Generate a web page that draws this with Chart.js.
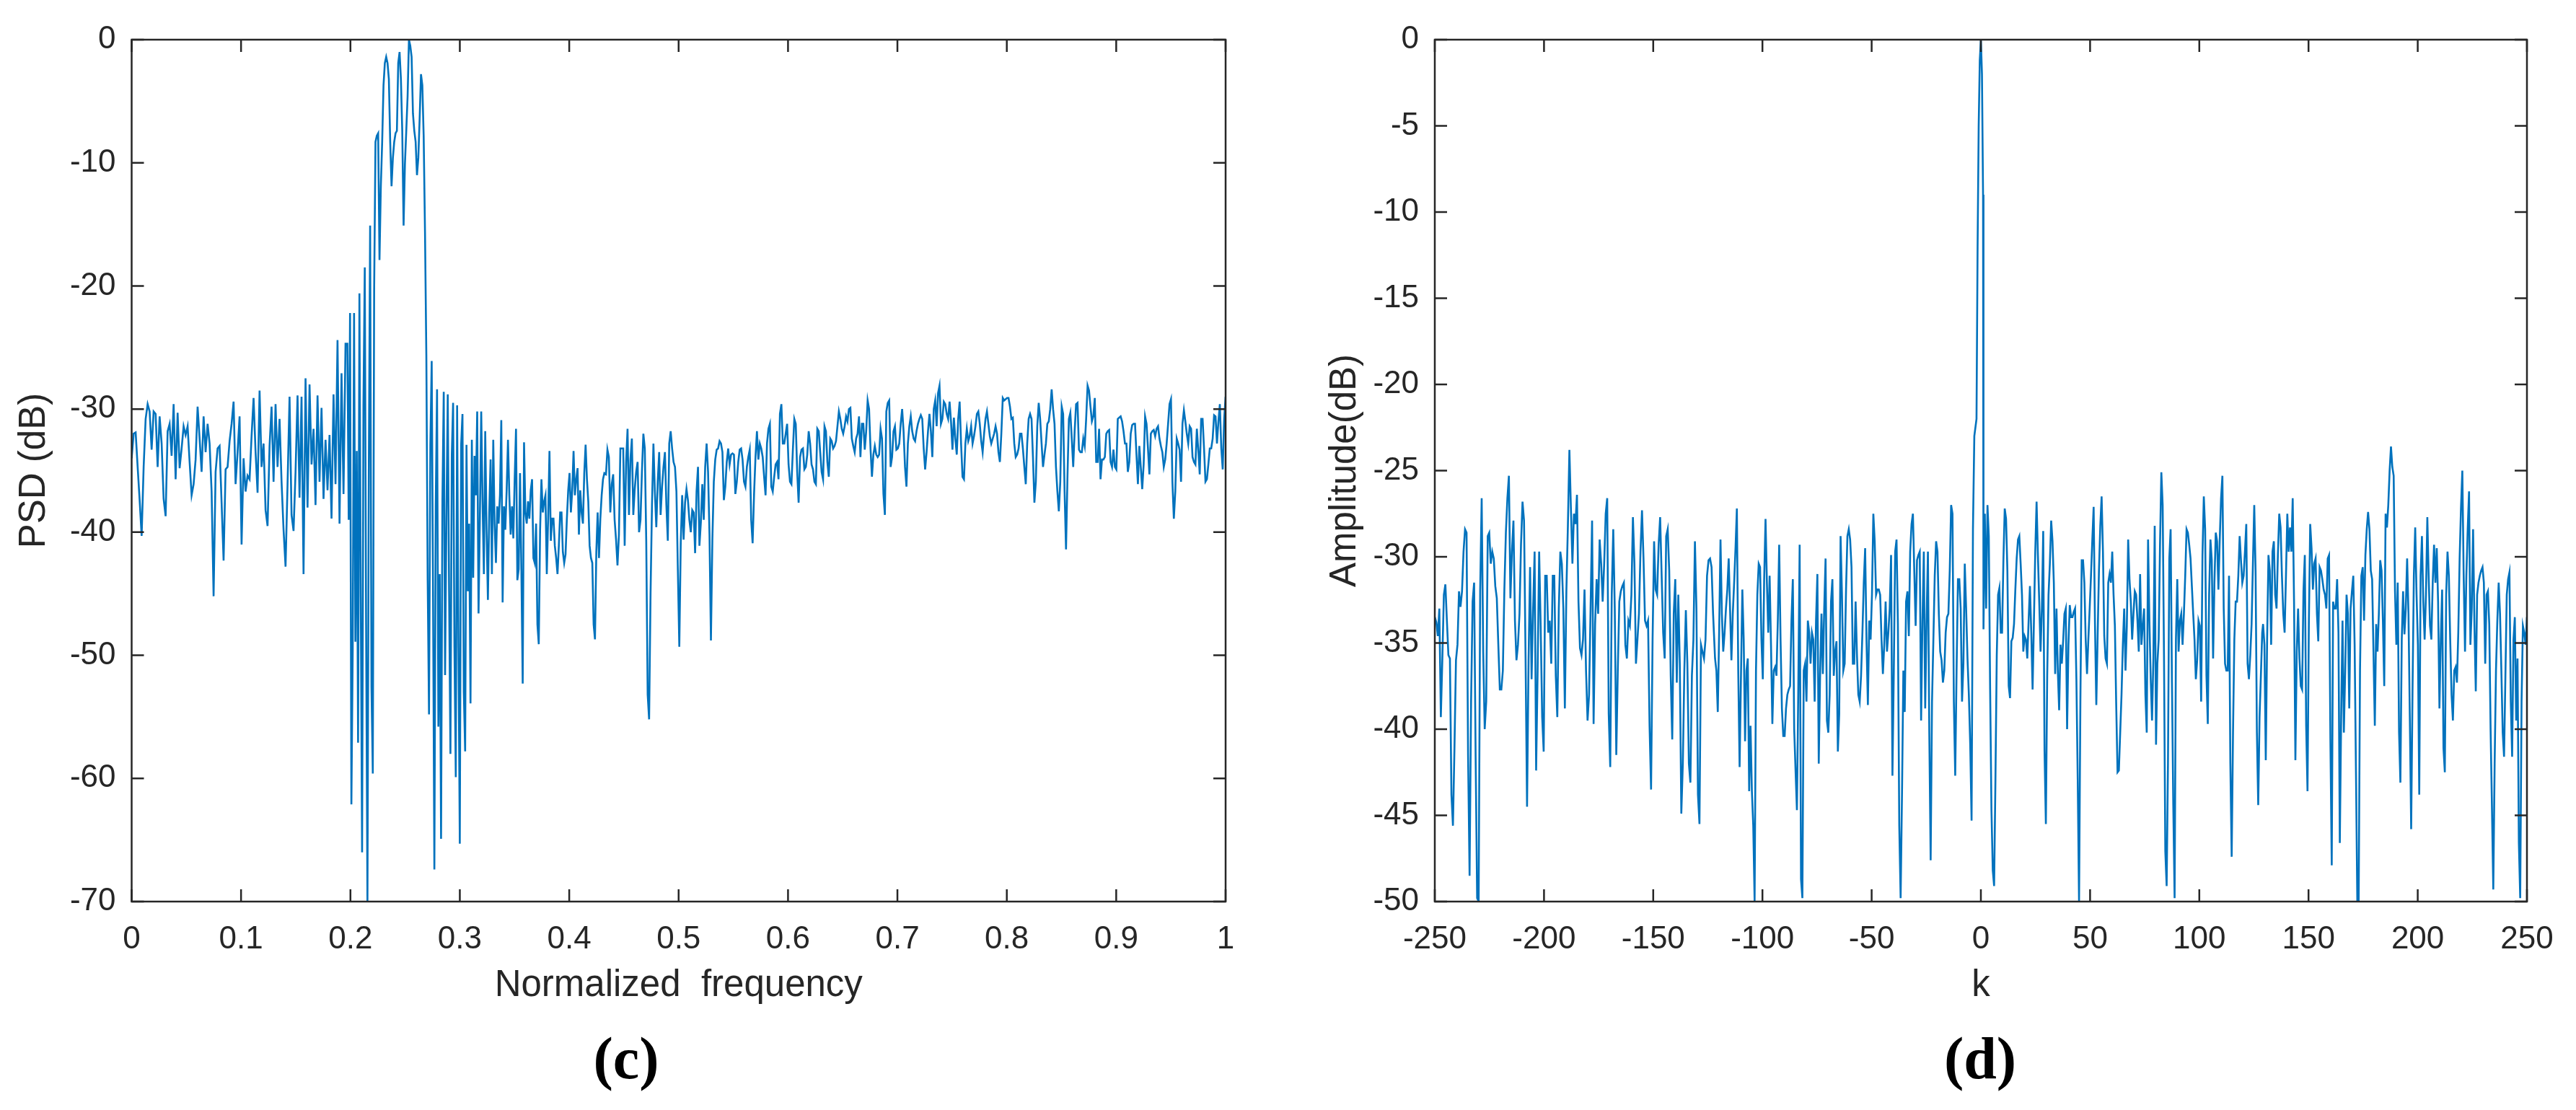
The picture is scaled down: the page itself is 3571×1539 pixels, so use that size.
<!DOCTYPE html>
<html>
<head>
<meta charset="utf-8">
<script src="https://cdn.jsdelivr.net/npm/chart.js@4.4.1/dist/chart.umd.min.js"></script>
<style>
  body { margin: 0; background: #fff; width: 3571px; height: 1539px; position: relative; overflow: hidden; }
  canvas { position: absolute; top: 0; }
  .cap { position: absolute; top: 1468px; transform: translate(-50%, -50%); font-family: "Liberation Serif", "Times New Roman", serif; font-weight: bold; font-size: 82px; line-height: 1; color: #000; }
</style>
</head>
<body>
<canvas id="chartC" width="1780" height="1420" style="left:0px"></canvas>
<canvas id="chartD" width="1781" height="1420" style="left:1790px"></canvas>
<div class="cap" style="left:868px">(c)</div>
<div class="cap" style="left:2745px">(d)</div>
<script>
// (c) PSD over normalized frequency in three stretches
const psdLow = [-34, -32, -31.9, -34.7, -37.4, -40.3, -34.7, -30.8, -29.6, -30.2, -33.3, -30.2, -30.4, -34.7, -30.6, -32.8, -37.3, -38.7, -31.8, -31.2,
  -33.8, -29.6, -35.7, -30.3, -34.8, -33.2, -31.4, -32.1, -31.4, -34.3, -37, -36.1, -34.1, -29.8, -32.4, -35.1, -30.6, -33.5, -31.2, -32.8,
  -36.7, -45.2, -35.1, -33.2, -33, -37.6, -42.3, -34.9, -34.7, -32.6, -31.2, -29.4, -36.1, -33.5, -30.6, -41, -34, -36.7, -35.4, -35.7,
  -32.2, -29.1, -33.5, -36.8, -28.5, -34.7, -32.8, -38.2, -39.5, -33, -29.8, -35.9, -29.6, -34.7, -30.8, -35.9, -39.8, -42.8, -36.1, -29,
  -38.6, -39.9, -35.1, -28.9, -37.2, -29, -43.4, -27.5, -38, -28, -34.5, -31.6, -37.8, -28.9, -35.9, -29.9, -37.3, -32.5, -36.6, -32.1,
  -38.9, -28.8, -36.1, -24.4, -39.3, -27.1, -36.9, -24.7];
const psdBand = [-24.7, -39, -22.2, -62.1, -49.4, -22.2, -48.9, -33.4, -57.1, -20.6, -45.3, -66, -29.7, -18.5, -47.5, -70, -35.2, -15.1, -52.6, -59.6,
  -20.4, -8.3, -7.8, -7.6, -17.9, -11.9, -8.3, -3.7, -1.9, -1.4, -1.9, -3.2, -8.3, -11.9, -9.6, -8.3, -7.6, -7.4, -1.9, -1,
  -3.2, -7.4, -15.1, -10.1, -7.4, -4.6, 0, -0.5, -1.4, -6, -7.4, -8.3, -11, -9.6, -6.4, -2.8, -3.7, -7.8, -15.6, -25.6,
  -43.9, -54.8, -32.9, -26.1, -44.8, -67.4, -37.9, -28.4, -55.8, -43.4, -64.9, -37.5, -28.6, -51.6, -38.9, -28.8, -44.8, -58, -33.8, -29.5,
  -49.4, -59.9, -29.7, -49.4, -65.3, -32.9, -30.4, -53, -57.8, -32.9, -44.8, -39.3, -53.9, -32.5, -43.7, -33.8, -37, -30.2, -46.6, -38.9,
  -30.2, -37.5, -43.4, -31.8, -39.8, -45.5, -38.4, -34.1, -43.4, -32.5, -39.3, -42.5, -37.9, -39.3, -37, -30.9, -45.7, -37.9, -39.8, -36.6,
  -32.5, -37, -40.2, -37.9, -40.5, -35.7, -31.6, -43.9, -43, -35.2, -43, -52.3, -32.7, -38.4, -39.3, -37.5, -38.9, -36.6, -35.7, -42.1,
  -42.5, -39.3, -47.5, -49.1, -39.8, -35.7, -38.4, -37.5, -37, -43.4, -38.9, -33.4, -40.7, -38.9, -38.9, -41.1, -42.1, -43.4, -41.1, -38.4,
  -38.4, -41.6, -42.5, -41.8, -38.9, -36.6, -35.2, -38.4, -36.6, -33.4, -37, -35.7, -34.8, -40.2, -36.6, -38.4, -39.3, -35.2, -32.9, -35.7,
  -37.5, -41.1, -42.1, -42.5, -47.5, -48.7, -41.6, -38.4, -42.1, -38.9, -37, -35.7, -35.2];
const psdHigh = [-35.3, -33.3, -33.9, -38.4, -36.1, -35.3, -39, -40.6, -42.7, -40.2, -33.2, -33.2, -33.2, -41.1, -34.3, -31.6, -38.6, -34.1, -32.4, -38.6,
  -36.5, -35.1, -34.3, -40, -39, -35.1, -32, -33.2, -40.7, -53.2, -55.2, -45, -37.8, -32.8, -36.7, -39.6, -35.9, -33.5, -38.6, -36.3,
  -34.7, -33.5, -37.8, -40.7, -32.8, -31.8, -33.2, -34.3, -34.7, -36.7, -43.1, -49.3, -40.9, -37, -40.6, -37.6, -36.5, -37.4, -39, -40,
  -38.2, -38.4, -41.7, -36.7, -34.7, -41.1, -39.2, -36.1, -39, -34.7, -32.8, -35.1, -40.2, -48.8, -40.6, -35.9, -34.1, -33.3, -33.2, -32.6,
  -32.8, -33.5, -37.4, -36.3, -34.3, -33.2, -34.5, -33.7, -33.6, -33.7, -36.9, -35.9, -34.3, -33.3, -33.2, -34.1, -35.9, -36.3, -34.7, -33.9,
  -33.3, -39, -40.9, -36.9, -33.9, -31.8, -34.1, -32.8, -33.2, -33.9, -35.5, -37, -32.8, -31.6, -31.2, -36.3, -36.7, -35.5, -34.5, -34.3,
  -35.7, -30.4, -29.6, -32.8, -32.8, -32, -31.2, -34.5, -35.9, -36.1, -33.3, -30.8, -31.2, -35.1, -37.6, -33.9, -33.3, -33.2, -34.9, -34.7,
  -33.7, -31.8, -32.8, -34.5, -34.9, -35.9, -36.1, -31.6, -31.8, -33.5, -35.1, -35.7, -31.4, -31.8, -34.3, -35.5, -32.4, -32.6, -33.2, -33,
  -32.6, -31.4, -30.2, -30.8, -31.6, -32, -31.4, -30.6, -31, -30, -29.9, -32.4, -33, -33.5, -32.4, -32, -30.6, -33.9, -31.2, -31.2,
  -33.3, -31.8, -29.3, -30, -33.2, -35.5, -33.7, -33, -33.7, -33.9, -33.7, -31.6, -32.4, -36.9, -38.6, -30.2, -29.5, -29.3, -34.7, -33.9,
  -31.8, -31.4, -33.3, -33.2, -32.8, -31.2, -30, -31.8, -34.7, -36.3, -32.8, -31.4, -30.6, -31.8,
  -32.4, -32.6, -31.8, -31.2, -30.8, -30.5, -30.8, -33.2, -34.9, -33.5, -31.8, -30.4, -31.8, -33.9, -30, -29.3, -31.4, -28.7, -28.1, -31.2,
  -30.8, -29.4, -29.6, -30.4, -30.8, -29.4, -31, -33.3, -30.7, -32.4, -33.7, -30.8, -29.4, -32.8, -35.5, -35.7, -32.8, -31.6, -32.6, -32.2,
  -31.4, -32.8, -32.2, -31.4, -30.4, -30.2, -31.2, -32.6, -33.5, -32, -30.8, -30.2, -31.2, -32.2, -32.8, -32.4, -32, -31.4, -32, -33.5,
  -34.3, -32, -29.1, -29.3, -29.2, -29.1, -29.1, -29.8, -30.8, -30.7, -32.8, -33.9, -33.7, -33.2, -32, -32, -33.2, -34.7, -36.1, -32.8,
  -30.8, -30.4, -30.8, -33.9, -37.6, -35.9, -31.4, -29.5, -30.8, -32.8, -34.7, -33.7, -32.8, -31.2, -31, -30, -28.4, -30, -31.2, -34.7,
  -36.7, -38.3, -35.9, -29.8, -30.4, -36.7, -41.4, -35.5, -30.8, -30.3, -32.4, -34.7, -31.8, -29.6, -29.5, -33.3, -33.5, -33.5, -32.4, -33,
  -30.8, -28.1, -28.5, -29.8, -31, -30.6, -29.1, -34.3, -34.3, -31.6, -35.7, -34.1, -34.1, -33.9, -32, -31.8, -31.7, -34.3, -34.7, -33.3,
  -34.7, -34.9, -30.8, -30.7, -30.6, -31, -31.8, -32.8, -32.8, -35.1, -34.3, -32, -31.3, -31.2, -31.2, -33.7, -36.1, -33, -34.7, -36.5,
  -34.5, -30.6, -31.2, -33.2, -35.3, -32, -31.8, -31.7, -32.2, -31.6, -31.4, -32.4, -33, -33.5, -34.7, -34.1, -32.8, -31.2, -29.6, -29.2,
  -35.9, -38.9, -36.7, -32.4, -32.8, -33.3, -35.9, -31.2, -30.1, -31, -32, -32.8, -31.4, -31.6, -33.9, -34.3, -34.5, -31.6, -33.3, -35.3,
  -30.8, -30.8, -33.2, -35.9, -35.7, -34.5, -33.2, -33.2, -32.4, -30.5, -30.6, -32.8, -31, -29.6, -33.2, -34.9, -30.8, -29];
const psdFreqRanges = [[0, 0.1955], [0.1972, 0.4321], [0.4336, 1.0]];
const psdXTicks = [0, 0.1, 0.2, 0.3, 0.4, 0.5, 0.6, 0.7, 0.8, 0.9, 1];
const psdYTicks = [-70, -60, -50, -40, -30, -20, -10, 0];

// (d) amplitude over k
const ampLeft = [-33.5, -33.8, -34.6, -33, -39.3, -35.9, -32.2, -31.6, -33.7, -35.7, -35.9, -43.8, -45.6, -41.1, -36, -35.1, -32, -32.9, -32, -29.7,
  -28.4, -28.6, -41.5, -48.5, -38.4, -32.6, -31.5, -41.6, -49.8, -50, -32, -26.6, -35.5, -40, -38.4, -28.8, -28.6, -30.4, -29.7, -30.1,
  -31.7, -32.4, -35.1, -37.7, -37.7, -36.6, -31.9, -28.6, -26.6, -25.3, -32.4, -29.7, -27.9, -33.7, -36, -35.1, -33.3, -29.3, -26.8, -27.9,
  -35.7, -44.5, -36, -30.6, -37.1, -33, -29.7, -42.4, -36.6, -29.7, -34, -39.3, -41.3, -31.1, -31.1, -34.4, -33.7, -36.2, -31.1, -31.1,
  -36.9, -39.3, -33, -29.7, -30.4, -33, -38.8, -32, -28.2, -23.8, -27.2, -30.4, -27.5, -28.1, -26.4, -32.6, -35.3, -35.7, -34.8, -31.9,
  -36.6, -39.5, -38, -33, -27.9, -39.7, -33.9, -31.3, -33.3, -29, -30.4, -32.6, -30.4, -27.5, -26.6, -39.1, -42.2, -32.2, -28.4, -33,
  -41.5, -36.6, -32.6, -32, -31.7, -31.5, -35.1, -35.9, -33.7, -34, -32.2, -27.7, -30.4, -36.2, -34.8, -33.3, -29.7, -27.3, -30.1, -33.7,
  -34, -33.7, -39.8, -43.5, -34.8, -29.1, -31.9, -32.2, -29.3, -27.7, -31.1, -34.4, -35.9, -28.8, -28.4, -30.8, -36.9, -40.6, -33.3, -31.3,
  -37.3, -32.2, -36.2, -44.9, -42, -36.6, -33.1, -36.2, -42, -43.1, -36.9, -34.8, -29.1, -33, -43.8, -45.5, -35.1, -35.5, -35.9, -34.8,
  -31.1, -30.2, -30.1, -30.6, -33.3];
const ampMid = [-35.9, -36.6, -39, -34.4, -29, -33.3, -35.5, -34.4, -33, -31.9, -30.1, -33, -36, -33.3, -31.5, -29.5, -27.2, -36.6, -42.2, -36.9,
  -31.9, -34.8, -40.7, -36.6, -35.9, -43.6, -39.8, -43.6, -45.6, -50, -36.6, -32.2, -30.4, -30.6, -34.8, -37.1, -31.3, -27.8, -31.5, -34.4,
  -31.1, -35.1, -39.7, -36.6, -36.4, -36.9, -33.7, -29.3, -34.8, -38.8, -40.4, -40.4, -38.8, -38, -37.7, -37.5, -33.7, -31.3, -40, -42.4,
  -44.7, -37.7, -29.3, -48.7, -49.8, -36.6, -36.2, -38.4, -33.7, -34.4, -36.2, -34.4, -34.8, -38.4, -33.7, -31, -42, -36.8, -33.3, -36.8,
  -33, -30.1, -39.5, -40.2, -38, -32.6, -31.3, -36.9, -35.5, -34.9, -41.3, -39.1, -28.8, -32.2, -36.6, -36.2, -31.9, -28.8, -28.4, -29,
  -30.6, -36.2, -36.2, -32.6, -35.7, -38, -38.4, -36.9, -34.4, -31.5, -29.5, -34.9, -38.6, -33.7, -34.8, -32.2, -27.5, -29.1, -32.2, -31.9,
  -31.9, -32.2, -34.8, -36.8, -35.1, -32.6, -35.5, -34.4, -33, -29.9, -42.7, -36.6, -29.7, -29, -33.9, -45.6, -49.8, -43.8, -36.6, -39,
  -32.6, -32, -34.6, -29.7, -28.1, -27.5, -30.8, -34, -30.2, -29.9, -29.7, -39.5, -33.7, -29.7, -38.8, -33.7, -29.7, -40.2, -47.6, -38.4,
  -34.8, -31.1, -29.1, -29.7, -33.3, -35.5, -36, -37.3, -36.6, -34.4, -33.5, -33.3, -30.8, -27, -27.5, -38.4, -42.7, -36.6, -31.3, -31.3,
  -33, -38.4, -36.2, -30.4, -33, -35.9, -38, -40.9, -45.3, -28.4, -23];
const ampPeak = [-22, -12, -5, -1.2, 0, -2, -9];
const ampRight = [-34.2, -27.5, -33, -27, -28.8, -37.7, -44.7, -48.2, -49.1, -42.9, -35.7, -32.2, -31.8, -34.4, -34.4, -30.2, -27.2, -27.8, -30.8, -37.5,
  -38.2, -34.9, -34.7, -33.9, -31.9, -30.1, -29, -28.8, -30.4, -32.2, -35.5, -34.6, -34.8, -35.9, -33.7, -31.7, -34.4, -37.7, -33.7, -29.7,
  -26.8, -29.9, -32.6, -35.5, -33, -28.5, -41.3, -45.5, -36.9, -32.2, -30.4, -27.9, -29.1, -31.5, -36.8, -33, -36.6, -38.9, -35.1, -36.2,
  -34.9, -33.3, -33, -40, -35.1, -32.8, -33.5, -33.5, -33.2, -33, -37.1, -42.9, -50, -38.4, -30.2, -30.2, -31.5, -34.8, -36.8, -34.8,
  -33, -31.1, -29, -27.1, -33.9, -38.6, -34.6, -30.8, -28.2, -26.5, -29.7, -34.6, -35.9, -36.2, -31.5, -31, -31.5, -29.7, -32.2, -34,
  -38.6, -42.5, -42.4, -40.2, -38, -35.1, -33, -36.6, -34, -29, -31.3, -32.6, -34.8, -33.3, -32, -32.2, -33.7, -35.5, -31, -35.1,
  -34, -33, -38, -40.2, -29, -33.7, -37.1, -39.5, -35.9, -28.2, -40.9, -36.2, -34.8, -29.3, -25.1, -27, -35.7, -47.1, -49.1, -42,
  -30.1, -28.4, -37.3, -44.4, -49.8, -34.8, -31.3, -35.5, -33.7, -33.3, -35.1, -33.3, -31.1, -28.4, -28.6, -29.3, -30.1, -31.7, -33.3, -34.8,
  -37.1, -36, -33.7, -34, -38.4, -29.9, -26.5, -28.4, -36.9, -39.7, -32.2, -29, -30.2, -35.9, -31.5, -28.6, -29.1, -31.9, -29, -26.6,
  -25.3, -33, -36.2, -36.6, -36.6, -31.1, -42, -47.4, -40.2, -34.8, -32.6, -32.6, -31.1, -28.8, -30.2, -31.5, -31.1, -29.7, -28.1, -36.2,
  -37.1, -35.7, -33.9, -30.4, -27, -30.8, -40.2, -44.4, -39.3, -36.9, -34.4];
const ampFar = [-33.9, -35.1, -41.8, -34.8, -29.9, -30.8, -35.1, -29.7, -29.1, -32.2, -33, -29.9, -27.5, -28.3, -31.1, -33.3, -34.4, -31.1, -27.5, -29.7,
  -28.3, -29.7, -26.6, -32.6, -41.8, -35.5, -33, -35.9, -37.5, -37.7, -32, -29.9, -39.8, -43.6, -33.9, -28.1, -29.5, -31.9, -30.4, -30.1,
  -33.3, -34.9, -30.6, -30.8, -31.3, -31.9, -32.2, -33, -30.1, -29.9, -40.6, -47.9, -32.6, -33, -33, -31.3, -34.4, -46.6, -39.3, -33.7,
  -40.2, -36.6, -32.2, -33.3, -38.8, -33, -32, -31.1, -35.1, -42.5, -50, -50, -36.6, -31.1, -30.6, -33.7, -29.9, -28.4, -27.4, -28.4,
  -30.8, -31.3, -35.5, -39.8, -33.9, -35.5, -33.3, -30.2, -30.8, -33.7, -37.5, -27.5, -28.3, -27, -25, -23.6, -24.8, -25.3, -32, -35.1,
  -31.5, -40.2, -43.1, -34.8, -32, -34.5, -33, -30.1, -33.3, -39.3, -45.8, -37.8, -31.1, -28.3, -32.2, -35.1, -43.8, -31.1, -28.8, -32.6,
  -34.8, -32.2, -27.7, -31.1, -34, -34.8, -31.5, -29.3, -31.5, -29.5, -32.6, -38.8, -34.8, -31.9, -41.1, -42.5, -32.2, -29.7, -31.1, -34.8,
  -38, -39.5, -36.6, -36.4, -37.3, -34.4, -30.1, -27.2, -25, -31.1, -35.5, -31.1, -28.4, -26.2, -35.1, -33, -28.4, -34, -37.8, -32.2,
  -31.5, -31.1, -30.8, -30.6, -31.5, -36.2, -32.2, -32, -33.9, -40, -44.5, -49.3, -42, -36.6, -33.7, -31.5, -33.3, -36.6, -40.2, -41.6,
  -36.9, -32.2, -31.3, -30.9, -38.4, -41.6, -34.8, -33.5, -39.5, -35.9, -46.6, -49.8, -38.4, -34, -34.4, -35.1, -33.5];
const ampKRanges = [[-250, -122.6], [-121.7, -3.0], [-2, 1], [1.2, 128.8], [129.2, 250]];
const ampXTicks = [-250, -200, -150, -100, -50, 0, 50, 100, 150, 200, 250];
const ampYTicks = [-50, -45, -40, -35, -30, -25, -20, -15, -10, -5, 0];

// each stretch is evenly sampled between its two ends
function toPoints(segments, ranges) {
  const pts = [];
  segments.forEach((vals, s) => {
    const [a, b] = ranges[s];
    const step = vals.length > 1 ? (b - a) / (vals.length - 1) : 0;
    vals.forEach((v, i) => pts.push({x: a + i * step, y: v}));
  });
  return pts;
}

Chart.defaults.font.family = '"Liberation Sans", Arial, sans-serif';
Chart.defaults.color = '#262626';

const axisColor = '#262626';

// matlab-like box with inward ticks on all four sides
const boxTicks = {
  id: 'boxTicks',
  afterDraw(chart) {
    const {ctx, chartArea: a, scales: {x, y}} = chart;
    const len = 17;
    ctx.save();
    ctx.strokeStyle = axisColor;
    ctx.lineWidth = 2.5;
    ctx.strokeRect(a.left, a.top, a.right - a.left, a.bottom - a.top);
    ctx.beginPath();
    x.ticks.forEach(t => {
      const px = x.getPixelForValue(t.value);
      ctx.moveTo(px, a.bottom); ctx.lineTo(px, a.bottom - len);
      ctx.moveTo(px, a.top); ctx.lineTo(px, a.top + len);
    });
    y.ticks.forEach(t => {
      const py = y.getPixelForValue(t.value);
      ctx.moveTo(a.left, py); ctx.lineTo(a.left + len, py);
      ctx.moveTo(a.right, py); ctx.lineTo(a.right - len, py);
    });
    ctx.stroke();
    ctx.restore();
  }
};

function makeChart(id, points, o) {
  return new Chart(document.getElementById(id), {
    type: 'line',
    data: {
      datasets: [{
        data: points,
        borderColor: '#0072BD',
        borderWidth: 2.6,
        pointRadius: 0,
        tension: 0,
        fill: false
      }]
    },
    options: {
      responsive: false,
      animation: false,
      devicePixelRatio: 1,
      parsing: false,
      layout: { padding: { left: 0, top: 55, right: o.padRight, bottom: 10 } },
      plugins: { legend: { display: false }, tooltip: { enabled: false } },
      scales: {
        x: {
          type: 'linear',
          min: o.xTicks[0],
          max: o.xTicks[o.xTicks.length - 1],
          afterBuildTicks: s => { s.ticks = o.xTicks.map(v => ({value: v})); },
          afterFit: s => { s.height = 160; },
          grid: { display: false, drawTicks: false },
          border: { display: false },
          ticks: { font: { size: 44 }, padding: 26, maxRotation: 0, autoSkip: false, callback: v => String(v) },
          title: { display: true, text: o.xTitle, font: { size: 51 }, padding: { bottom: 12 } }
        },
        y: {
          type: 'linear',
          min: o.yTicks[0],
          max: o.yTicks[o.yTicks.length - 1],
          afterBuildTicks: s => { s.ticks = o.yTicks.map(v => ({value: v})); },
          afterFit: s => { s.width = o.yWidth; },
          grid: { display: false, drawTicks: false },
          border: { display: false },
          ticks: { font: { size: 44 }, padding: 22, autoSkip: false, callback: v => String(v) },
          title: { display: true, text: o.yTitle, font: { size: 51 }, padding: { top: o.yTitlePad } }
        }
      }
    },
    plugins: [boxTicks]
  });
}

makeChart('chartC', toPoints([psdLow, psdBand, psdHigh], psdFreqRanges), {
  xTicks: psdXTicks, yTicks: psdYTicks,
  xTitle: 'Normalized  frequency', yTitle: 'PSD (dB)',
  yWidth: 182.5, padRight: 81, yTitlePad: 17
});

makeChart('chartD', toPoints([ampLeft, ampMid, ampPeak, ampRight, ampFar], ampKRanges), {
  xTicks: ampXTicks, yTicks: ampYTicks,
  xTitle: 'k', yTitle: 'Amplitude(dB)',
  yWidth: 199, padRight: 68, yTitlePad: 44
});
</script>
</body>
</html>
